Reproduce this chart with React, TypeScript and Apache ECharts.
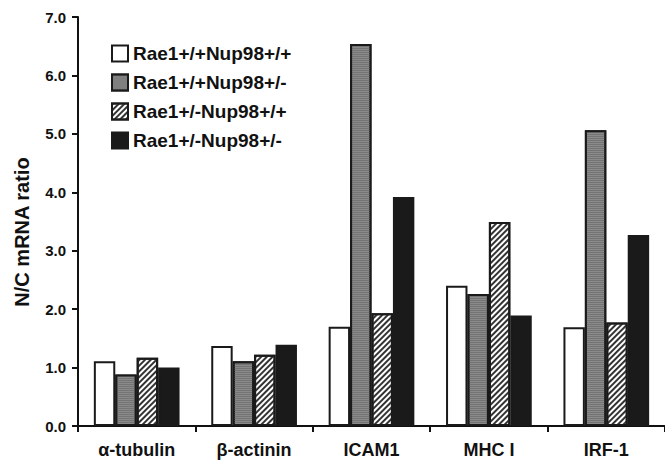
import React, { useEffect, useRef } from "react";
import * as echarts from "echarts";

const categories = ["α-tubulin", "β-actinin", "ICAM1", "MHC I", "IRF-1"];
const seriesNames = ["Rae1+/+Nup98+/+", "Rae1+/+Nup98+/-", "Rae1+/-Nup98+/+", "Rae1+/-Nup98+/-"];
const wtwt = [1.11, 1.37, 1.7, 2.4, 1.69];
const wtHet = [0.88, 1.11, 6.54, 2.26, 5.06];
const hetWt = [1.17, 1.22, 1.93, 3.49, 1.77];
const hetHet = [1.0, 1.39, 3.92, 1.89, 3.27];
const yTicks = [0, 1, 2, 3, 4, 5, 6, 7];
const yAxisTitle = "N/C mRNA ratio";

export default function App() {
  const ref = useRef<HTMLDivElement>(null);
  useEffect(() => {
    document.body.style.margin = "0";
    const chart = echarts.init(ref.current!, null, { renderer: "svg" });
    const border = { borderColor: "#1a1a1a", borderWidth: 2 };
    const font = "Liberation Sans";
    chart.setOption({
      animation: false,
      backgroundColor: "#ffffff",
      grid: { left: 78, right: -2, top: 17, bottom: 36 },
      graphic: [
        {
          type: "text",
          x: 22,
          y: 232,
          rotation: Math.PI / 2,
          style: {
            text: yAxisTitle,
            fontFamily: font,
            fontWeight: "bold",
            fontSize: 20,
            fill: "#111",
            align: "center",
            verticalAlign: "middle",
          },
        },
      ],
      legend: {
        left: 106,
        top: 39,
        orient: "vertical",
        itemWidth: 16,
        itemHeight: 16,
        itemGap: 10,
        icon: "rect",
        textStyle: { fontFamily: font, fontWeight: "bold", fontSize: 19, color: "#111" },
        data: seriesNames,
      },
      xAxis: {
        type: "category",
        data: categories,
        axisLine: { lineStyle: { color: "#111", width: 2 } },
        axisTick: { show: true, length: 6, lineStyle: { color: "#111", width: 2 } },
        axisLabel: { fontFamily: font, fontWeight: "bold", fontSize: 18, color: "#111", margin: 15 },
      },
      yAxis: {
        type: "value",
        min: yTicks[0],
        max: yTicks[yTicks.length - 1],
        interval: 1,
        axisLine: { show: true, lineStyle: { color: "#111", width: 2 } },
        axisTick: { show: true, length: 6, lineStyle: { color: "#111", width: 2 } },
        splitLine: { show: false },
        axisLabel: {
          fontFamily: font,
          fontWeight: "bold",
          fontSize: 15,
          color: "#111",
          margin: 12,
          formatter: (v: number) => v.toFixed(1),
        },
      },
      series: [
        {
          name: seriesNames[0],
          type: "bar",
          data: wtwt,
          barGap: "0%",
          barCategoryGap: "27%",
          itemStyle: { color: "#ffffff", ...border },
        },
        {
          name: seriesNames[1],
          type: "bar",
          data: wtHet,
          barGap: "0%",
          barCategoryGap: "27%",
          itemStyle: {
            color: "#8a8a8a",
            ...border,
            decal: {
              symbol: "rect",
              color: "#747474",
              dashArrayX: [1, 0],
              dashArrayY: [1, 1],
              rotation: 0,
            },
          },
        },
        {
          name: seriesNames[2],
          type: "bar",
          data: hetWt,
          barGap: "0%",
          barCategoryGap: "27%",
          itemStyle: {
            color: "#ffffff",
            ...border,
            decal: {
              symbol: "rect",
              color: "#333333",
              dashArrayX: [1, 0],
              dashArrayY: [1.5, 2],
              rotation: -Math.PI / 4,
            },
          },
        },
        {
          name: seriesNames[3],
          type: "bar",
          data: hetHet,
          barGap: "0%",
          barCategoryGap: "27%",
          itemStyle: { color: "#1a1a1a", ...border },
        },
      ],
    });
    return () => chart.dispose();
  }, []);
  return <div ref={ref} style={{ width: 665, height: 462 }} />;
}
